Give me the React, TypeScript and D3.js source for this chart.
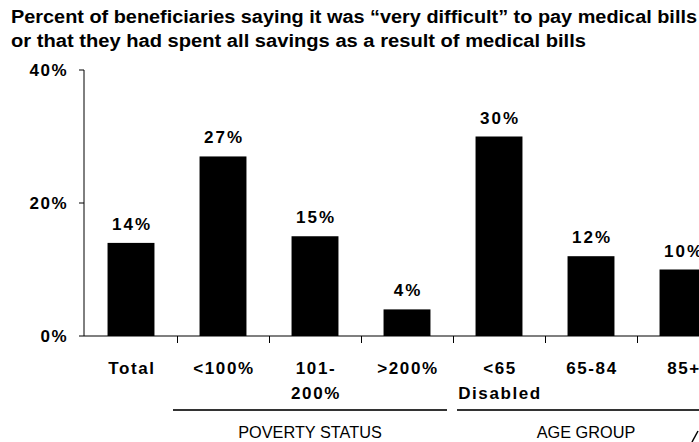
import React from "react";
import * as d3 from "d3";

const categories = ["Total", "<100%", "101-200%", ">200%", "<65 Disabled", "65-84", "85+"];
const labelLines = [["Total"], ["<100%"], ["101-", "200%"], [">200%"], ["<65", "Disabled"], ["65-84"], ["85+"]];
const values = [14, 27, 15, 4, 30, 12, 10];
const yTicks = [0, 20, 40];
const groups = [
  { name: "POVERTY STATUS", lineStart: 173, lineEnd: 447, center: 310 },
  { name: "AGE GROUP", lineStart: 457, lineEnd: 715, center: 586 },
];
const titleLines = [
  "Percent of beneficiaries saying it was \u201cvery difficult\u201d to pay medical bills",
  "or that they had spent all savings as a result of medical bills",
];

const W = 699;
const H = 442;
const FONT = "'Liberation Sans', Arial, sans-serif";

export default function App() {
  const x0 = 85;
  const step = 92;
  const x = d3
    .scaleBand<string>()
    .domain(categories)
    .range([x0, x0 + step * categories.length])
    .paddingInner(0.49)
    .paddingOuter(0.245);
  const y = d3.scaleLinear().domain([0, 40]).range([336, 70]);
  const axisX = 84;
  const baseY = y(0);

  return (
    <svg
      width={W}
      height={H}
      style={{ position: "absolute", left: 0, top: 0, background: "#fff" }}
      fontFamily={FONT}
    >
      <rect x={0} y={0} width={W} height={H} fill="#fff" />
      {/* title */}
      <text x={11} y={23} fontSize={17.5} fontWeight="bold" textLength={686} lengthAdjust="spacingAndGlyphs">
        {titleLines[0]}
      </text>
      <text x={11} y={47} fontSize={17.5} fontWeight="bold" textLength={575} lengthAdjust="spacingAndGlyphs">
        {titleLines[1]}
      </text>

      {/* y axis */}
      <line x1={axisX} x2={axisX} y1={y(40)} y2={baseY} stroke="#000" strokeWidth={1} />
      {yTicks.map((t) => (
        <g key={t}>
          <line x1={axisX - 5} x2={axisX} y1={y(t)} y2={y(t)} stroke="#000" />
          <text
            x={68}
            y={y(t) + 6}
            textAnchor="end"
            fontSize={17}
            fontWeight="bold"
            letterSpacing={1.5}
          >
            {t}%
          </text>
        </g>
      ))}

      {/* bars */}
      {categories.map((c, i) => {
        const bx = x(c)!;
        const bw = x.bandwidth();
        return (
          <g key={c}>
            <rect x={bx} y={y(values[i])} width={bw} height={baseY - y(values[i])} fill="#000" />
            <text
              x={bx + bw / 2 + 1}
              y={y(values[i]) - 13}
              textAnchor="middle"
              fontSize={17}
              fontWeight="bold"
              letterSpacing={2}
            >
              {values[i]}%
            </text>
          </g>
        );
      })}

      {/* x axis */}
      <line x1={axisX} x2={W} y1={baseY} y2={baseY} stroke="#000" strokeWidth={1.2} />
      {categories.map((c, i) => (
        <line
          key={"tk" + i}
          x1={x0 + step * (i + 1) + 0.5}
          x2={x0 + step * (i + 1) + 0.5}
          y1={baseY}
          y2={baseY + 7}
          stroke="#000"
        />
      ))}

      {/* category labels */}
      {categories.map((c, i) => {
        const cx = x(c)! + x.bandwidth() / 2 + 1;
        return (
          <text key={"cl" + i} textAnchor="middle" fontSize={17} fontWeight="bold" letterSpacing={1.6}>
            {labelLines[i].map((ln, j) => (
              <tspan key={j} x={cx} y={374 + j * 25}>
                {ln}
              </tspan>
            ))}
          </text>
        );
      })}

      {/* group lines */}
      {groups.map((g) => (
        <g key={g.name}>
          <line x1={g.lineStart} x2={g.lineEnd} y1={410} y2={410} stroke="#333" strokeWidth={2} />
          <text x={g.center} y={438} textAnchor="middle" fontSize={16.3}>
            {g.name}
          </text>
        </g>
      ))}
      <line x1={692} y1={442} x2={698} y2={431} stroke="#000" strokeWidth={1.5} />
    </svg>
  );
}
